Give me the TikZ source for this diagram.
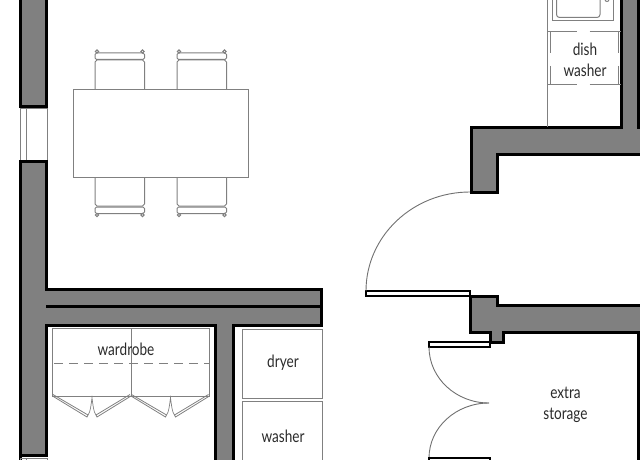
\documentclass[tikz,border=0pt]{standalone}
\usepackage{fontspec}
\setmainfont[FakeStretch=0.8]{Lato}
\tikzset{
  wall/.style={fill=wallgrey,draw=black,line width=3pt,line join=miter},
  wallline/.style={draw=black,line width=3pt},
  thin/.style={draw=thingrey,line width=1pt},
  arcline/.style={draw=arcgrey,line width=0.9pt},
  doorleaf/.style={draw=black,fill=white,line width=1.7pt},
  label/.style={font=\fontsize{17pt}{21pt}\selectfont,text=labelgrey,align=center,inner sep=0pt},
}
\definecolor{wallgrey}{HTML}{808080}
\definecolor{thingrey}{HTML}{808080}
\definecolor{arcgrey}{HTML}{707070}
\definecolor{labelgrey}{HTML}{2A2A2A}
\begin{document}
\begin{tikzpicture}[x=1pt,y=-1pt]
\useasboundingbox (0,0) rectangle (640,460);
\clip (0,0) rectangle (640,460);
% left wall, upper part
\fill[wallgrey] (20,-5) rectangle (47,106);
\draw[wallline] (20.5,-5) -- (20.5,106.5) -- (46.5,106.5) -- (46.5,-5);
% window upper
\draw[thin] (20.5,108) rectangle (47,160);
\draw[thin] (26,108) -- (26,160);
% left wall with horizontal wall and stub
\draw[wall] (20.5,465) -- (20.5,161) -- (46.5,161) -- (46.5,289) -- (321,289) -- (321,325) -- (233.5,325) -- (233.5,465) -- (215,465) -- (215,325) -- (46.5,325) -- (46.5,455) -- (20.5,455) -- cycle;
\draw[wallline] (46,306) -- (321,306);
% window lower
\draw[thin] (20.5,458) -- (20.5,465) (26,458) -- (26,465) (47,458) -- (47,465) (20.5,458) -- (47,458);
% upper right wall
\draw[wall] (621,-5) -- (621,127) -- (471,127) -- (471,192) -- (497,192) -- (497,154) -- (645,154) -- (645,127) -- (638,127) -- (638,-5);
% lower right wall
\draw[wall] (645,305) -- (497,305) -- (497,296) -- (470.5,296) -- (470.5,332) -- (490,332) -- (490,342) -- (503,342) -- (503,332) -- (638,332) -- (645,332) -- cycle;
\draw[wallline] (638,332) -- (638,465);
% doors
\draw[doorleaf] (366,291) rectangle (470,296);
\draw[arcline] (366,291) arc[start angle=180,end angle=270,x radius=104,y radius=99];
\draw[doorleaf] (429,342) rectangle (490,347);
\draw[arcline] (429,347) arc[start angle=180,end angle=90,x radius=60,y radius=56];
\draw[arcline] (489,403) arc[start angle=270,end angle=180,x radius=60,y radius=55];
\draw[doorleaf] (429,458) rectangle (490,463);
% table and chairs
\foreach \cx in {95,177}{
  \draw[thin] (\cx,89.5) -- (\cx,62) -- ++(2,-2) -- (\cx+47.5,60) -- ++(2,2) -- (\cx+49.5,89.5);
  \draw[thin,rounded corners=1.5pt] (\cx,53) rectangle (\cx+49.5,59.5);
  \draw[thin,fill=white] (\cx+2,51.5) circle[radius=1.6];
  \draw[thin,fill=white] (\cx+47.5,51.5) circle[radius=1.6];
  \draw[thin] (\cx,177) -- (\cx,204) -- ++(2,2) -- (\cx+47.5,206) -- ++(2,-2) -- (\cx+49.5,177);
  \draw[thin,rounded corners=1.5pt] (\cx,207) rectangle (\cx+49.5,213.5);
  \draw[thin,fill=white] (\cx+2,215) circle[radius=1.6];
  \draw[thin,fill=white] (\cx+47.5,215) circle[radius=1.6];
}
\draw[thin] (73.5,89.5) rectangle (248.5,177);
% wardrobe
\draw[thin] (52.5,396) -- (52.5,328) -- (209.5,328) -- (209.5,396) -- cycle;
\draw[thin] (131,328) -- (131,396);
\draw[thin,dash pattern=on 9pt off 6pt] (54,363) -- (209,363);
\foreach \ox in {0,78.5}{
  \begin{scope}[shift={(\ox,0)}]
  \draw[thin,line width=0.8pt] (52.5,396) -- (87,417) -- (88,415) -- (53,394.5);
  \draw[thin,line width=0.8pt] (131,396) -- (97,417) -- (96,415) -- (130,394.5);
  \draw[thin,line width=0.7pt] (88,415) .. controls (90.5,412) and (91,405) .. (92,398) .. controls (93,405) and (93.5,412) .. (96,415);
  \end{scope}
}
% appliances
\draw[thin] (242,329) rectangle (322.5,398);
\draw[thin] (322.5,465) -- (322.5,401.5) -- (242,401.5) -- (242,465);
% kitchen
\draw[thin] (547.5,-5) -- (547.5,127);
\draw[thin] (552.5,-5) -- (552.5,21) -- (613.5,21) -- (613.5,-5);
\draw[thin,rounded corners=3pt] (556.5,-5) -- (556.5,17.5) -- (600,17.5) -- (600,-5);
\draw[thin] (607,-0.5) circle[radius=2];
\draw[thin,dash pattern=on 29pt off 13pt on 31pt] (547.5,32) -- (621,32);
\draw[thin,dash pattern=on 29pt off 13pt on 31pt] (547.5,84.5) -- (621,84.5);
\draw[thin,dash pattern=on 21pt off 13pt on 19pt] (550,32) -- (550,84.5);
\draw[thin,dash pattern=on 21pt off 13pt on 19pt] (618,32) -- (618,84.5);
% labels
\node[label] (wardrobe) at (126,349) {wardrobe};
\node[label] (dryer) at (283,363) {dryer};
\node[label] (washer) at (283,436) {washer};
\node[label] (dish) at (585,60) {dish\\washer};
\node[label] (storage) at (565.5,405) {extra\\storage};
\end{tikzpicture}
\end{document}
